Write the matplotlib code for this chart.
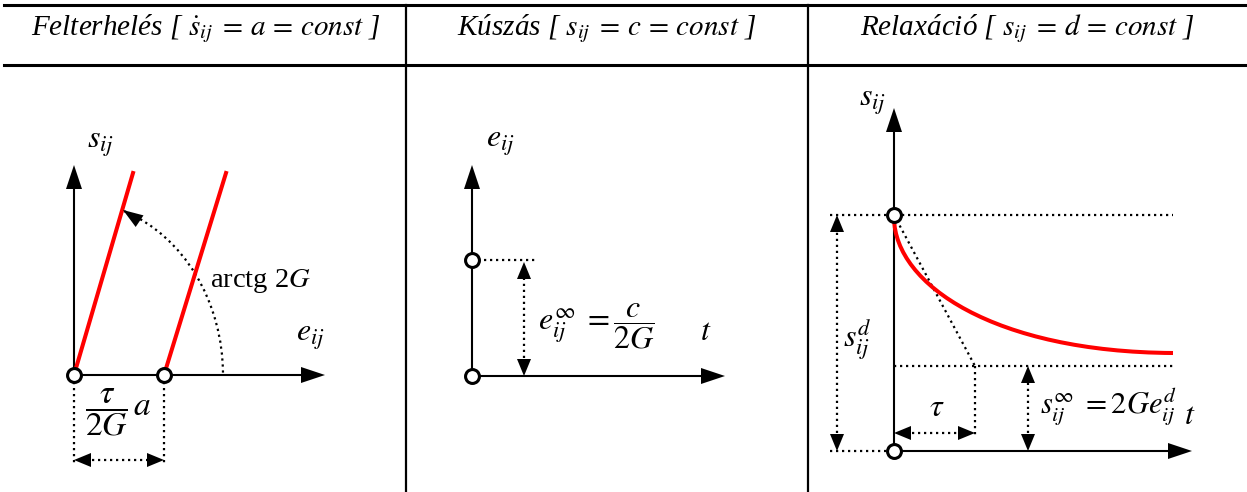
import matplotlib.pyplot as plt
import numpy as np
from matplotlib.patches import Polygon, Arc, PathPatch
from matplotlib.path import Path

plt.rcParams['mathtext.fontset'] = 'stix'
plt.rcParams['font.family'] = ['Liberation Serif', 'DejaVu Serif']

# column headers
titles = [r"Felterhelés [ $\dot{s}_{ij}\;=\,a\,=\,const$ ]",
          r"Kúszás [ $s_{ij}\;=\,c\,=\,const$ ]",
          r"Relaxáció [ $s_{ij}\;=\,d\,=\,const$ ]"]
title_x = [206, 607, 1027]

# panel 1: loading, two parallel lines with slope arctg 2G
load_origin = (74, 375)
load_shift = (164, 375)
load_tops = [(133, 173), (226, 173)]

# panel 2: creep
creep_origin = (472, 376)
creep_level = (472, 260)

# panel 3: relaxation
rel_origin = (894, 451)
rel_start = (894, 215)
rel_inf_y = 366
rel_tau_x = 975
rel_curve = [(894, 218), (895, 285), (995, 352), (1173, 353)]

RED = '#ff0000'
DOT = (0, (1, 1.7))

fig = plt.figure(figsize=(12.47, 4.92), dpi=100)
ax = fig.add_axes([0, 0, 1, 1])
ax.set_xlim(0, 1247)
ax.set_ylim(492, 0)
ax.axis('off')


def head(tip, d, L=24, W=8):
    d = np.asarray(d, float)
    d = d / np.hypot(*d)
    tip = np.asarray(tip, float)
    base = tip - L * d
    perp = np.array([-d[1], d[0]])
    ax.add_patch(Polygon([tip, base + W * perp, base - W * perp],
                         closed=True, fc='k', ec='none', zorder=4))


def axis_arrow(p0, p1):
    p0 = np.asarray(p0, float)
    p1 = np.asarray(p1, float)
    d = (p1 - p0) / np.hypot(*(p1 - p0))
    end = p1 - 20 * d
    ax.plot([p0[0], end[0]], [p0[1], end[1]], color='k', lw=1.5, zorder=3)
    head(p1, d)


def dotted(p0, p1, lw=1.6):
    ax.plot([p0[0], p1[0]], [p0[1], p1[1]], color='k', lw=lw,
            linestyle=DOT, zorder=2)


def dim_arrow(p0, p1):
    p0 = np.asarray(p0, float)
    p1 = np.asarray(p1, float)
    d = (p1 - p0) / np.hypot(*(p1 - p0))
    dotted(p0 + 12 * d, p1 - 12 * d)
    head(p1, d, L=17, W=7)
    head(p0, -d, L=17, W=7)


def circle(p):
    ax.plot(p[0], p[1], marker='o', ms=10, mfc='white', mec='k',
            mew=2.2, zorder=6)


# table lines
ax.plot([4, 1247], [5, 5], color='k', lw=2.2)
ax.plot([4, 1247], [65, 65], color='k', lw=2.2)
for x in [406, 808]:
    ax.plot([x, x], [5, 492], color='k', lw=1.6)

for t, x in zip(titles, title_x):
    ax.text(x, 35, t, ha='center', va='baseline', fontsize=21,
            style='italic')

# ---- panel 1 ----
axis_arrow(load_origin, (74, 165))
axis_arrow(load_origin, (325, 375))
ax.plot([load_origin[0], load_tops[0][0]], [load_origin[1], load_tops[0][1]],
        color=RED, lw=2.9, zorder=3)
ax.plot([load_shift[0], load_tops[1][0]], [load_shift[1], load_tops[1][1]],
        color=RED, lw=2.9, zorder=3)
ax.add_patch(Arc(load_origin, 298, 348, theta1=-73, theta2=0, color='k',
                 lw=1.6, linestyle=DOT, zorder=2))
head((123, 210), (-0.83, -0.56), L=20, W=7)
circle(load_origin)
circle(load_shift)
dotted((74, 382), (74, 464))
dotted((164, 382), (164, 464))
dim_arrow((74, 460), (164, 460))
ax.text(87, 148, r"$s_{ij}$", fontsize=23, va='baseline')
ax.text(296, 341, r"$e_{ij}$", fontsize=23, va='baseline')
ax.text(210, 287, r"arctg 2$G$", fontsize=20.5, va='baseline')
ax.text(85, 412, r"$\dfrac{\tau}{2G}\,a$", fontsize=24, va='center')

# ---- panel 2 ----
axis_arrow(creep_origin, (472, 165))
axis_arrow(creep_origin, (725, 376))
dotted(creep_level, (538, 260))
dim_arrow((524, 376), (524, 262))
circle(creep_origin)
circle(creep_level)
ax.text(486, 147, r"$e_{ij}$", fontsize=23, va='baseline')
ax.text(538, 326, r"$e_{ij}^{\infty}\;=\dfrac{c}{2G}$", fontsize=23,
        va='center')
ax.text(700, 340, r"$t$", fontsize=23, va='baseline')

# ---- panel 3 ----
axis_arrow(rel_origin, (894, 108))
axis_arrow(rel_origin, (1192, 451))
dotted((830, rel_start[1]), (1173, rel_start[1]))
dotted((830, rel_origin[1]), (887, rel_origin[1]))
dotted((894, rel_inf_y), (1173, rel_inf_y))
dotted(rel_start, (rel_tau_x, rel_inf_y))
dotted((rel_tau_x, rel_inf_y), (rel_tau_x, 438))
dim_arrow((837, 451), (837, 215))
dim_arrow((894, 433), (rel_tau_x, 433))
dim_arrow((1028, 451), (1028, 366))
curve = Path(rel_curve, [Path.MOVETO, Path.CURVE4, Path.CURVE4, Path.CURVE4])
ax.add_patch(PathPatch(curve, fc='none', ec=RED, lw=2.9, zorder=3))
circle(rel_origin)
circle(rel_start)
ax.text(859, 106, r"$s_{ij}$", fontsize=23, va='baseline')
ax.text(843, 347, r"$s_{ij}^{d}$", fontsize=23, va='baseline')
ax.text(937, 416, r"$\tau$", fontsize=23, va='baseline', ha='center')
ax.text(1040, 414, r"$s_{ij}^{\infty}\;= 2Ge_{ij}^{d}$", fontsize=22,
        va='baseline')
ax.text(1184, 424, r"$t$", fontsize=23, va='baseline')

fig.savefig('out.png', dpi=100)
